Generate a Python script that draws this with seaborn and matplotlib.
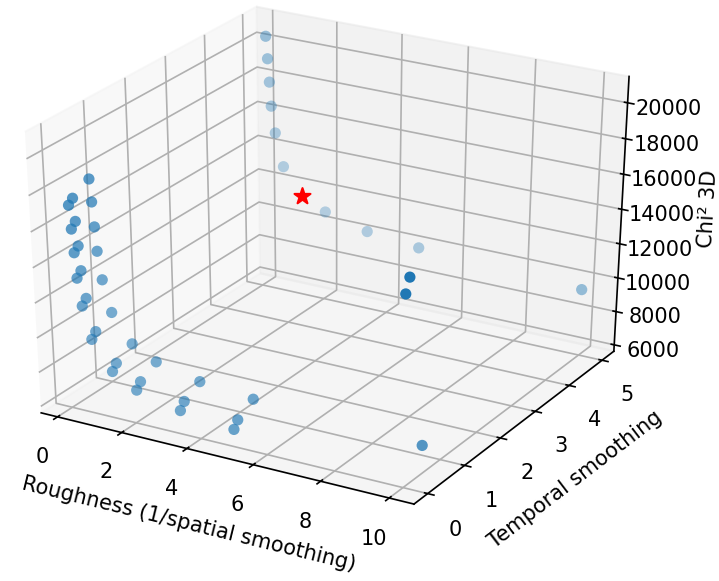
import matplotlib
matplotlib.use("Agg")
import matplotlib.pyplot as plt
import numpy as np
import pandas as pd
import seaborn as sns

# classic 3D padding around the data box
plt.rcParams["axes3d.automargin"] = True

# roughness values of the runs (1 / spatial smoothing)
roughness = [0.20, 0.25, 0.30, 0.35, 0.47, 0.72, 1.32, 2.05, 3.38, 5.0, 10.0]
# temporal smoothing levels
temporal_levels = [0.0, 0.1, 0.5, 5.0]
# chi² for each roughness at each temporal level
chi2_t0 = [17270, 15970, 14670, 13260, 11730, 9920, 8320, 7560, 6970, 6620, 16440]
chi2_t01 = [17520, 16260, 14910, 13540, 12020, 10220, 8650, 7900, 7350, 7020, 17200]
chi2_t05 = [18050, 16800, 15430, 14080, 12510, 10740, 9180, 8450, 7890, 7600, 7240]
chi2_t5 = [20440, 19180, 17860, 16490, 14970, 13080, 11560, 10900, 10260, 9940, 9530]

# preferred model: roughness index and temporal level
best_index = 6
best_temporal = 5.0

rows = []
for t, chis in zip(temporal_levels, [chi2_t0, chi2_t01, chi2_t05, chi2_t5]):
    for i, (r, c) in enumerate(zip(roughness, chis)):
        if t == best_temporal and i == best_index:
            continue
        rows.append((r, t, c))
runs = pd.DataFrame(rows, columns=["roughness", "temporal", "chi2"])

best_roughness = [roughness[best_index]]
best_chi2 = [chi2_t5[best_index]]

blue = sns.color_palette("tab10")[0]

dpi = 150
fig = plt.figure(figsize=(719 / dpi, 581 / dpi), dpi=dpi)
ax = fig.add_axes([-49.8 / 719, 50.0 / 581, 744 / 719, 554.4 / 581],
                  projection="3d", computed_zorder=False)
# unit-cube box stretched over the whole (non-square) axes rectangle
ax.set_box_aspect((1, 1, 1), zoom=0.9725)
ax.apply_aspect = lambda position=None: None

ax.scatter(runs["roughness"], runs["temporal"], runs["chi2"], color=blue,
           s=29, linewidths=0)
ax.scatter(best_roughness, [best_temporal], best_chi2, color="red", marker="*",
           s=65, linewidths=1, depthshade=False)

ax.set_xlabel("Roughness (1/spatial smoothing)")
ax.set_ylabel("Temporal smoothing")
ax.set_zlabel("Chi² 3D")

fig.savefig("out.png", dpi=dpi)
